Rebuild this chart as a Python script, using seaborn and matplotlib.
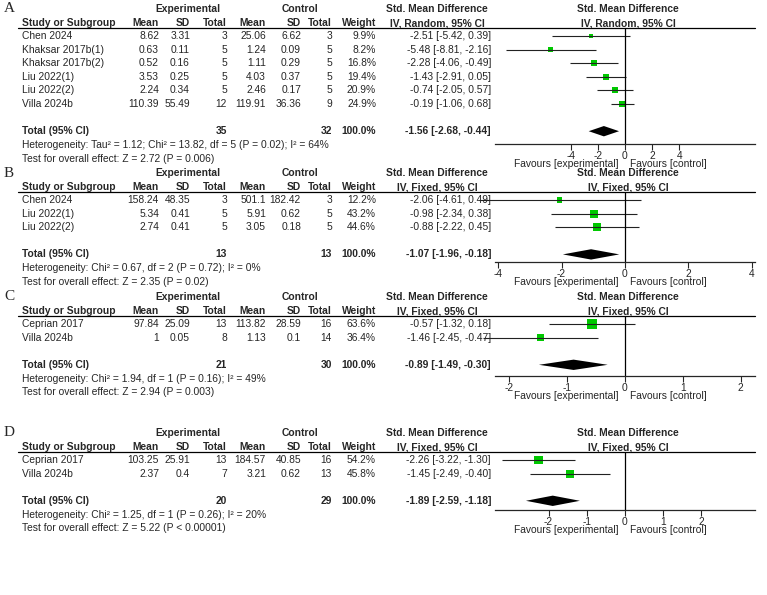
import matplotlib
matplotlib.use("Agg")
import matplotlib.pyplot as plt
import seaborn as sns
import pandas as pd

# === panel data ===
a_study = ['Chen 2024', 'Khaksar 2017b(1)', 'Khaksar 2017b(2)', 'Liu 2022(1)', 'Liu 2022(2)', 'Villa 2024b']
a_exp_mean = [8.62, 0.63, 0.52, 3.53, 2.24, 110.39]
a_exp_sd = [3.31, 0.11, 0.16, 0.25, 0.34, 55.49]
a_exp_n = [3, 5, 5, 5, 5, 12]
a_ctl_mean = [25.06, 1.24, 1.11, 4.03, 2.46, 119.91]
a_ctl_sd = [6.62, 0.09, 0.29, 0.37, 0.17, 36.36]
a_ctl_n = [3, 5, 5, 5, 5, 9]
a_weight = [9.9, 8.2, 16.8, 19.4, 20.9, 24.9]
a_smd = [-2.51, -5.48, -2.28, -1.43, -0.74, -0.19]
a_lo = [-5.42, -8.81, -4.06, -2.91, -2.05, -1.06]
a_hi = [0.39, -2.16, -0.49, 0.05, 0.57, 0.68]
a_total = (35, 32, -1.56, -2.68, -0.44)

b_study = ['Chen 2024', 'Liu 2022(1)', 'Liu 2022(2)']
b_exp_mean = [158.24, 5.34, 2.74]
b_exp_sd = [48.35, 0.41, 0.41]
b_exp_n = [3, 5, 5]
b_ctl_mean = [501.1, 5.91, 3.05]
b_ctl_sd = [182.42, 0.62, 0.18]
b_ctl_n = [3, 5, 5]
b_weight = [12.2, 43.2, 44.6]
b_smd = [-2.06, -0.98, -0.88]
b_lo = [-4.61, -2.34, -2.22]
b_hi = [0.49, 0.38, 0.45]
b_total = (13, 13, -1.07, -1.96, -0.18)

c_study = ['Ceprian 2017', 'Villa 2024b']
c_exp_mean = [97.84, 1]
c_exp_sd = [25.09, 0.05]
c_exp_n = [13, 8]
c_ctl_mean = [113.82, 1.13]
c_ctl_sd = [28.59, 0.1]
c_ctl_n = [16, 14]
c_weight = [63.6, 36.4]
c_smd = [-0.57, -1.46]
c_lo = [-1.32, -2.45]
c_hi = [0.18, -0.47]
c_total = (21, 30, -0.89, -1.49, -0.30)

d_study = ['Ceprian 2017', 'Villa 2024b']
d_exp_mean = [103.25, 2.37]
d_exp_sd = [25.91, 0.4]
d_exp_n = [13, 7]
d_ctl_mean = [184.57, 3.21]
d_ctl_sd = [40.85, 0.62]
d_ctl_n = [16, 13]
d_weight = [54.2, 45.8]
d_smd = [-2.26, -1.45]
d_lo = [-3.22, -2.49]
d_hi = [-1.30, -0.40]
d_total = (20, 29, -1.89, -2.59, -1.18)

panels = [
    dict(tag='A', study=a_study, em=a_exp_mean, esd=a_exp_sd, en=a_exp_n, cm=a_ctl_mean, csd=a_ctl_sd, cn=a_ctl_n,
         w=a_weight, smd=a_smd, lo=a_lo, hi=a_hi, total=a_total, model='IV, Random, 95% CI',
         het='Heterogeneity: Tau² = 1.12; Chi² = 13.82, df = 5 (P = 0.02); I² = 64%',
         test='Test for overall effect: Z = 2.72 (P = 0.006)',
         ticks=[-4, -2, 0, 2, 4], xlim=9.6, top=9, ya=144),
    dict(tag='B', study=b_study, em=b_exp_mean, esd=b_exp_sd, en=b_exp_n, cm=b_ctl_mean, csd=b_ctl_sd, cn=b_ctl_n,
         w=b_weight, smd=b_smd, lo=b_lo, hi=b_hi, total=b_total, model='IV, Fixed, 95% CI',
         het='Heterogeneity: Chi² = 0.67, df = 2 (P = 0.72); I² = 0%',
         test='Test for overall effect: Z = 2.35 (P = 0.02)',
         ticks=[-4, -2, 0, 2, 4], xlim=4.1, top=173, ya=262),
    dict(tag='C', study=c_study, em=c_exp_mean, esd=c_exp_sd, en=c_exp_n, cm=c_ctl_mean, csd=c_ctl_sd, cn=c_ctl_n,
         w=c_weight, smd=c_smd, lo=c_lo, hi=c_hi, total=c_total, model='IV, Fixed, 95% CI',
         het='Heterogeneity: Chi² = 1.94, df = 1 (P = 0.16); I² = 49%',
         test='Test for overall effect: Z = 2.94 (P = 0.003)',
         ticks=[-2, -1, 0, 1, 2], xlim=2.25, top=297, ya=376),
    dict(tag='D', study=d_study, em=d_exp_mean, esd=d_exp_sd, en=d_exp_n, cm=d_ctl_mean, csd=d_ctl_sd, cn=d_ctl_n,
         w=d_weight, smd=d_smd, lo=d_lo, hi=d_hi, total=d_total, model='IV, Fixed, 95% CI',
         het='Heterogeneity: Chi² = 1.25, df = 1 (P = 0.26); I² = 20%',
         test='Test for overall effect: Z = 5.22 (P < 0.00001)',
         ticks=[-2, -1, 0, 1, 2], xlim=3.4, top=433, ya=510),
]

sns.set_style('white')
plt.rcParams['font.family'] = ['Liberation Sans', 'DejaVu Sans']
W, H = 767, 595
fig = plt.figure(figsize=(W / 100, H / 100), dpi=100)
FS = 7.4
ROW = 13.6
GREEN = '#00c800'


def px(x, y):
    return x / W, 1 - y / H


def t(x, y, s, ha='left', bold=False, **kw):
    fig.text(*px(x, y), s, ha=ha, va='center', fontsize=FS,
             fontweight='bold' if bold else 'normal', **kw)


def ci(m, lo, hi):
    return f'{m:.2f} [{lo:.2f}, {hi:.2f}]'


for p in panels:
    y0 = p['top']
    fig.text(*px(4, y0), p['tag'], ha='left', va='center', fontsize=11, family='Liberation Serif')
    t(188, y0, 'Experimental', 'center', True)
    t(300, y0, 'Control', 'center', True)
    t(437, y0, 'Std. Mean Difference', 'center', True)
    t(628, y0, 'Std. Mean Difference', 'center', True)
    y1 = y0 + 14
    t(22, y1, 'Study or Subgroup', bold=True)
    for x, s in [(159, 'Mean'), (190, 'SD'), (227, 'Total'), (266, 'Mean'), (301, 'SD'), (332, 'Total'), (376, 'Weight')]:
        t(x, y1, s, 'right', True)
    t(437, y1, p['model'], 'center', True)
    t(628, y1, p['model'], 'center', True)
    yl = y1 + 5
    fig.add_artist(plt.Line2D([18 / W, 755 / W], [1 - yl / H] * 2, color='black', lw=0.9))

    r0 = yl + 8
    for i, s in enumerate(p['study']):
        y = r0 + i * ROW
        t(22, y, s)
        t(159, y, f"{p['em'][i]:g}", 'right')
        t(190, y, f"{p['esd'][i]:g}", 'right')
        t(227, y, f"{p['en'][i]}", 'right')
        t(266, y, f"{p['cm'][i]:g}", 'right')
        t(301, y, f"{p['csd'][i]:g}", 'right')
        t(332, y, f"{p['cn'][i]}", 'right')
        t(376, y, f"{p['w'][i]:.1f}%", 'right')
        t(491, y, ci(p['smd'][i], p['lo'][i], p['hi'][i]), 'right')
    ntot = len(p['study']) + 1
    en, cn, m, lo, hi = p['total']
    yt = r0 + ntot * ROW
    t(22, yt, 'Total (95% CI)', bold=True)
    t(227, yt, f'{en}', 'right', True)
    t(332, yt, f'{cn}', 'right', True)
    t(376, yt, '100.0%', 'right', True)
    t(491, yt, ci(m, lo, hi), 'right', True)
    t(22, yt + 14, p['het'])
    t(22, yt + 27.5, p['test'])

    # forest axes
    ya = p['ya']
    ax = fig.add_axes([495 / W, 1 - ya / H, 260 / W, (ya - yl) / H])
    df = pd.DataFrame({'row': range(len(p['study'])), 'smd': p['smd'], 'w': p['w']})
    ax.hlines(df['row'], p['lo'], p['hi'], color='#222222', lw=0.8, clip_on=False)
    sns.scatterplot(data=df, x='smd', y='row', size='w', sizes=(6, 45), size_norm=(0, 65),
                    marker='s', color=GREEN, edgecolor='none', legend=False, ax=ax)
    d = 0.38
    ax.fill([lo, m, hi, m], [ntot, ntot - d, ntot, ntot + d], color='black', lw=0)
    ax.axvline(0, color='black', lw=0.9)
    ax.set_xlim(-p['xlim'], p['xlim'])
    ax.set_ylim((ya - r0) / ROW, (yl - r0) / ROW)
    ax.set_xticks(p['ticks'])
    ax.set_xticklabels([f'{v}' for v in p['ticks']], fontsize=FS)
    ax.set_yticks([])
    ax.set_xlabel('')
    ax.set_ylabel('')
    for s in ['top', 'left', 'right']:
        ax.spines[s].set_visible(False)
    ax.spines['bottom'].set_linewidth(0.9)
    ax.tick_params(axis='x', length=4, width=0.8, pad=1, direction='out', bottom=True)
    t(618, ya + 20, 'Favours [experimental]', 'right')
    t(630, ya + 20, 'Favours [control]')

fig.savefig('out.png', dpi=100)
